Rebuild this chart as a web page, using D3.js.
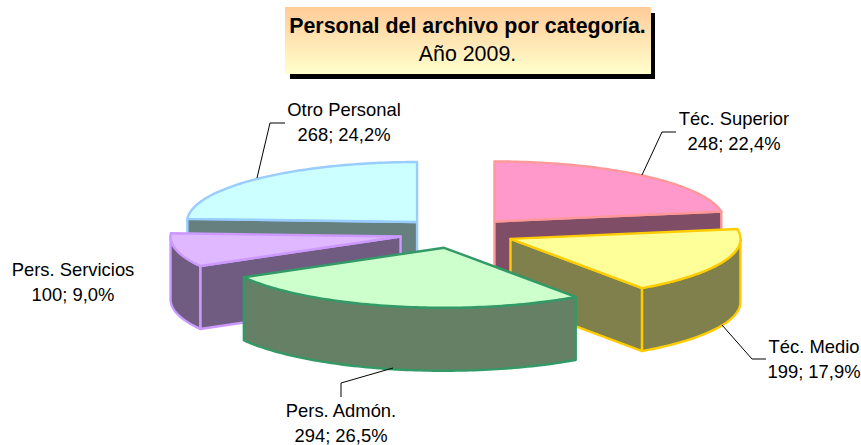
<!DOCTYPE html>
<html><head><meta charset="utf-8">
<script src="https://cdn.jsdelivr.net/npm/d3@7"></script>
<style>html,body{margin:0;background:#fff}svg{display:block}text{font-family:"Liberation Sans",Arial,sans-serif;fill:#000}</style>
</head><body><svg id="c" width="861" height="445"></svg>
<script>
const categories=["Téc. Superior","Téc. Medio","Pers. Admón.","Pers. Servicios","Otro Personal"];
const values=[248,199,294,100,268];
const percents=["22,4%","17,9%","26,5%","9,0%","24,2%"];
const topColors=["#FF99CC","#FFFF99","#CCFFCC","#E0B8FF","#CCFFFF"];
const borderColors=["#FF9999","#FFCC00","#339966","#CC99FF","#99CCFF"];
const drawOrder=[4,0,3,1,2];
const labelAnchors=[[734,125],[814,353],[341,417],[73,276],[344,116]];
const leaders=[[[642,175],[662,132],[676,132]],[[722,325],[752,359],[766,359]],[[393,368],[341,383],[341,397]],[],[[257,178],[270,123],[285,123]]];
const W=861,H=445,cx=457,cy=233,rx=230,ry=60,depth=63,explode=58;
const svg=d3.select("#c");
const defs=svg.append("defs");
const g=defs.append("linearGradient").attr("id","tg").attr("x1",0).attr("y1",0).attr("x2",0).attr("y2",1);
g.append("stop").attr("offset",0).attr("stop-color","#FFCC99");
g.append("stop").attr("offset",1).attr("stop-color","#FFFFCC");
svg.append("rect").attr("x",290).attr("y",13).attr("width",365).attr("height",66).attr("fill","#000");
svg.append("rect").attr("x",285).attr("y",7).attr("width",366).attr("height",67).attr("fill","url(#tg)");
svg.append("text").attr("x",467.5).attr("y",33).attr("text-anchor","middle").style("font-size","21.4px").style("font-weight","bold").text("Personal del archivo por categoría.");
svg.append("text").attr("x",467.5).attr("y",61).attr("text-anchor","middle").style("font-size","21.4px").text("Año 2009.");

const pie=d3.pie().sort(null).startAngle(0).endAngle(2*Math.PI);
const arcs=pie(values);
const sx=d3.scaleLinear().domain([-1,1]).range([-rx,rx]);
const sy=d3.scaleLinear().domain([-1,1]).range([ry,-ry]);
const P=(a,ox,oy,dz=0)=>[ox+sx(Math.sin(a)),oy+sy(Math.cos(a))+dz];
const line=d3.line();
function arcPts(a0,a1,ox,oy,dz){const n=Math.max(2,Math.ceil((a1-a0)/0.02)),r=[];for(let i=0;i<=n;i++)r.push(P(a0+(a1-a0)*i/n,ox,oy,dz));return r;}
const shade=c=>{const k=d3.rgb(c);return d3.rgb(k.r/2,k.g/2,k.b/2).formatHex();};
const pg=svg.append("g");
drawOrder.forEach(i=>{
  const d=arcs[i],a0=d.startAngle,a1=d.endAngle,mid=(a0+a1)/2;
  const ox=cx+sx(Math.sin(mid)*explode/rx),oy=cy+sy(Math.cos(mid)*explode/rx);
  const side=shade(topColors[i]),st={fill:side,stroke:borderColors[i],"stroke-width":2.4,"stroke-linejoin":"round"};
  const draw=pts=>{const p=pg.append("path").attr("d",line(pts)+"Z");Object.entries(st).forEach(([k,v])=>p.attr(k,v));return p;};
  const face=a=>{const E=P(a,ox,oy);draw([[ox,oy],E,[E[0],E[1]+depth],[ox,oy+depth]]);};
  if(Math.sin(a0)<-1e-6)face(a0);
  if(Math.sin(a1)>1e-6)face(a1);
  const w0=Math.max(a0,Math.PI/2),w1=Math.min(a1,3*Math.PI/2);
  if(w1>w0){draw(arcPts(w0,w1,ox,oy,0).concat(arcPts(w0,w1,ox,oy,depth).reverse()));}
  const top=[[ox,oy]].concat(arcPts(a0,a1,ox,oy,0));
  draw(top).attr("fill",topColors[i]);
});
const lg=svg.append("g");
leaders.forEach(l=>{if(l.length)lg.append("path").attr("d",line(l)).attr("fill","none").attr("stroke","#000").attr("stroke-width",1);});
categories.forEach((c,i)=>{
  const t=svg.append("text").attr("text-anchor","middle").style("font-size","18.4px");
  t.append("tspan").attr("x",labelAnchors[i][0]).attr("y",labelAnchors[i][1]).text(c);
  t.append("tspan").attr("x",labelAnchors[i][0]).attr("y",labelAnchors[i][1]+24.5).text(values[i]+"; "+percents[i]);
});
</script></body></html>
